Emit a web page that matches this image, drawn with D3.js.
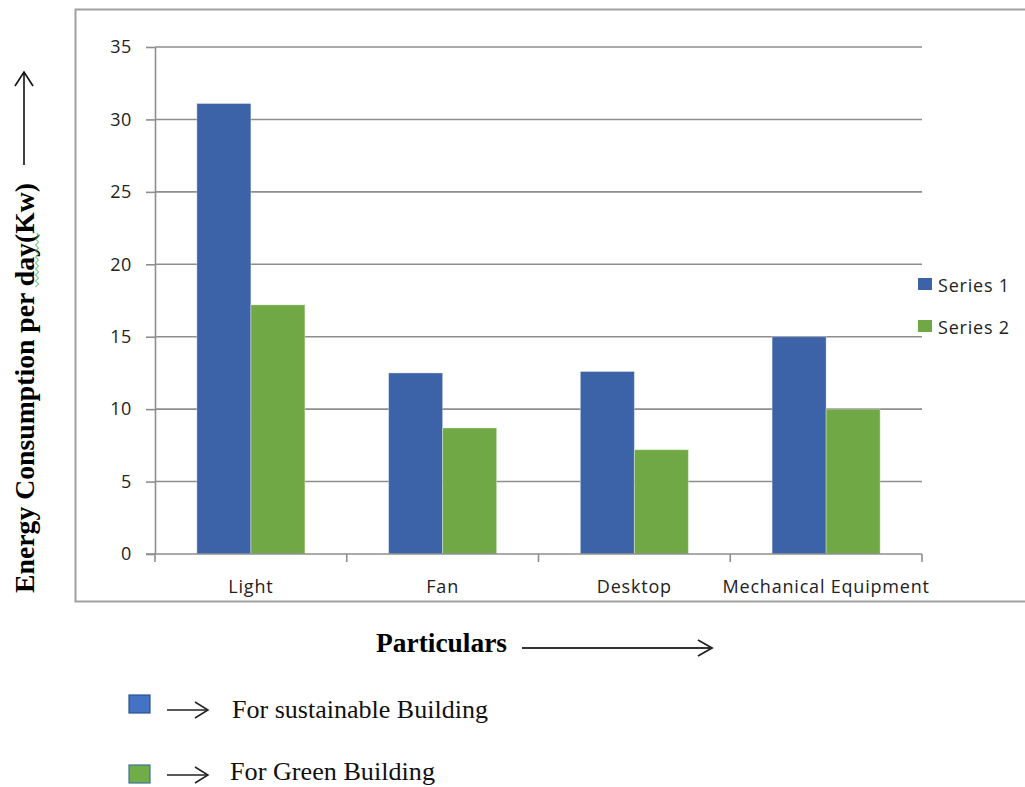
<!DOCTYPE html>
<html>
<head>
<meta charset="utf-8">
<script src="https://cdn.jsdelivr.net/npm/d3@7"></script>
<style>
  html, body { margin: 0; padding: 0; background: #fff; }
  svg { display: block; }
</style>
</head>
<body>
<svg id="chart" width="1025" height="787"></svg>
<script>
// ---- data ----
const categories = ["Light", "Fan", "Desktop", "Mechanical Equipment"];
const seriesNames = ["Series 1", "Series 2"];
const series1 = [31.1, 12.5, 12.6, 15.0];
const series2 = [17.2, 8.7, 7.2, 10.0];
const yTicks = [0, 5, 10, 15, 20, 25, 30, 35];
const yTitle = "Energy Consumption per day(Kw)";
const xTitle = "Particulars";
const noteLabels = ["For sustainable Building", "For Green Building"];

// ---- styles ----
const barColors = ["#3c63a8", "#70a845"];
const noteFill = ["#4472c4", "#70ad47"];
const noteStroke = ["#2f528f", "#41719c"];
const sansFont = "'Open Sans', 'Noto Sans', sans-serif";
const serifFont = "'Liberation Serif', 'DejaVu Serif', serif";

const svg = d3.select("#chart");

// outer chart frame
svg.append("rect")
  .attr("x", 75.5).attr("y", 9.5).attr("width", 1000).attr("height", 592)
  .attr("fill", "none").attr("stroke", "#a0a0a0").attr("stroke-width", 2);

const plot = { left: 155, right: 922, top: 47, bottom: 554 };

const y = d3.scaleLinear().domain([0, 35]).range([plot.bottom, plot.top]);
const x0 = d3.scaleBand().domain(categories).range([plot.left, plot.right]).padding(0);
const x1 = d3.scaleBand().domain(seriesNames).range([0, x0.bandwidth()])
  .paddingInner(0).paddingOuter(0.775);

// gridlines
svg.append("g").selectAll("line").data(yTicks.filter(t => t > 0)).join("line")
  .attr("x1", plot.left).attr("x2", plot.right)
  .attr("y1", d => y(d)).attr("y2", d => y(d))
  .attr("stroke", "#8e8e8e").attr("stroke-width", 1.6);

// y axis
const yAxis = svg.append("g").attr("transform", `translate(${plot.left},0)`)
  .call(d3.axisLeft(y).tickValues(yTicks).tickSize(9).tickPadding(14).tickSizeOuter(0));
yAxis.select(".domain").attr("stroke", "#8e8e8e").attr("stroke-width", 1.6);
yAxis.selectAll(".tick line").attr("stroke", "#8e8e8e").attr("stroke-width", 1.6);
yAxis.selectAll(".tick text")
  .attr("font-family", sansFont).attr("font-size", 18).attr("fill", "#222")
  .attr("letter-spacing", "0.6px");

// bars
const seriesData = [series1, series2];
const groups = svg.append("g").selectAll("g").data(categories).join("g")
  .attr("transform", d => `translate(${x0(d)},0)`);
groups.selectAll("rect")
  .data((c, i) => seriesNames.map((s, k) => ({ s, k, v: seriesData[k][i] })))
  .join("rect")
  .attr("x", d => x1(d.s))
  .attr("width", x1.bandwidth())
  .attr("y", d => y(d.v))
  .attr("height", d => y(0) - y(d.v))
  .attr("fill", d => barColors[d.k])
  .attr("stroke", "rgba(255,255,255,0.35)").attr("stroke-width", 1);

// x axis line + boundary ticks
const xAxisG = svg.append("g");
xAxisG.append("line")
  .attr("x1", plot.left - 9).attr("x2", plot.right)
  .attr("y1", y(0)).attr("y2", y(0))
  .attr("stroke", "#8e8e8e").attr("stroke-width", 1.6);
const bounds = categories.map(c => x0(c)).concat([x0.range()[1]]);
xAxisG.selectAll("line.tk").data(bounds).join("line").attr("class", "tk")
  .attr("x1", d => d).attr("x2", d => d)
  .attr("y1", y(0)).attr("y2", y(0) + 8)
  .attr("stroke", "#8e8e8e").attr("stroke-width", 1.6);

// category labels
const xAxis = svg.append("g").attr("transform", `translate(0,${plot.bottom})`)
  .call(d3.axisBottom(x0).tickSize(0));
xAxis.select(".domain").remove();
xAxis.selectAll(".tick text")
  .attr("y", 39).attr("dy", 0)
  .attr("font-family", sansFont).attr("font-size", 18).attr("fill", "#222")
  .attr("letter-spacing", "0.8px");

// chart legend
const leg = svg.append("g").selectAll("g").data(seriesNames).join("g")
  .attr("transform", (d, i) => `translate(918,${278 + i * 42})`);
leg.append("rect").attr("width", 14).attr("height", 12)
  .attr("fill", (d, i) => barColors[i]);
leg.append("text").attr("x", 20).attr("y", 14)
  .attr("font-family", sansFont).attr("font-size", 18).attr("fill", "#222")
  .attr("letter-spacing", "0.8px")
  .text(d => d);

// y title
svg.append("text")
  .attr("transform", "translate(34,388) rotate(-90)")
  .attr("text-anchor", "middle")
  .attr("font-family", serifFont).attr("font-weight", "bold").attr("font-size", 27)
  .attr("textLength", 410).attr("lengthAdjust", "spacingAndGlyphs")
  .text(yTitle);

// spell-check squiggle under "day"
{
  let p = "M37,233";
  for (let yy = 233, k = 0; yy < 287; yy += 3, k++) p += ` L${k % 2 ? 35.5 : 38.5},${yy + 3}`;
  svg.append("path").attr("d", p).attr("fill", "none").attr("stroke", "#3cb043").attr("stroke-width", 1);
}

// y arrow
const arrowStroke = "#111";
svg.append("line").attr("x1", 24).attr("x2", 24).attr("y1", 165).attr("y2", 72)
  .attr("stroke", arrowStroke).attr("stroke-width", 1.6);
svg.append("polyline").attr("points", "15,86 24,72 33,86")
  .attr("fill", "none").attr("stroke", arrowStroke).attr("stroke-width", 1.6);

// x title + arrow
svg.append("text").attr("x", 376).attr("y", 652)
  .attr("font-family", serifFont).attr("font-weight", "bold").attr("font-size", 27)
  .attr("textLength", 131).attr("lengthAdjust", "spacingAndGlyphs")
  .text(xTitle);
svg.append("line").attr("x1", 522).attr("x2", 712).attr("y1", 648).attr("y2", 648)
  .attr("stroke", "#333").attr("stroke-width", 2);
svg.append("polyline").attr("points", "698,640 712,648 698,656")
  .attr("fill", "none").attr("stroke", "#222").attr("stroke-width", 1.8);

// notes below
const noteRows = [
  { sq: 695, arrow: 710, base: 718, tx: 232, len: 256 },
  { sq: 765, arrow: 775, base: 780, tx: 230, len: 205 }
];
const notes = svg.append("g").selectAll("g").data(noteLabels).join("g");
notes.append("rect").attr("x", 129).attr("y", (d, i) => noteRows[i].sq).attr("width", 21).attr("height", 18)
  .attr("fill", (d, i) => noteFill[i]).attr("stroke", (d, i) => noteStroke[i]).attr("stroke-width", 1.2);
notes.append("line").attr("x1", 167).attr("x2", 208)
  .attr("y1", (d, i) => noteRows[i].arrow).attr("y2", (d, i) => noteRows[i].arrow)
  .attr("stroke", "#222").attr("stroke-width", 1.5);
notes.append("polyline")
  .attr("points", (d, i) => { const a = noteRows[i].arrow; return `195,${a - 8} 208,${a} 195,${a + 8}`; })
  .attr("fill", "none").attr("stroke", "#222").attr("stroke-width", 1.5);
notes.append("text")
  .attr("x", (d, i) => noteRows[i].tx).attr("y", (d, i) => noteRows[i].base)
  .attr("font-family", serifFont).attr("font-size", 26).attr("fill", "#111")
  .attr("textLength", (d, i) => noteRows[i].len).attr("lengthAdjust", "spacingAndGlyphs")
  .text(d => d);
</script>
</body>
</html>
